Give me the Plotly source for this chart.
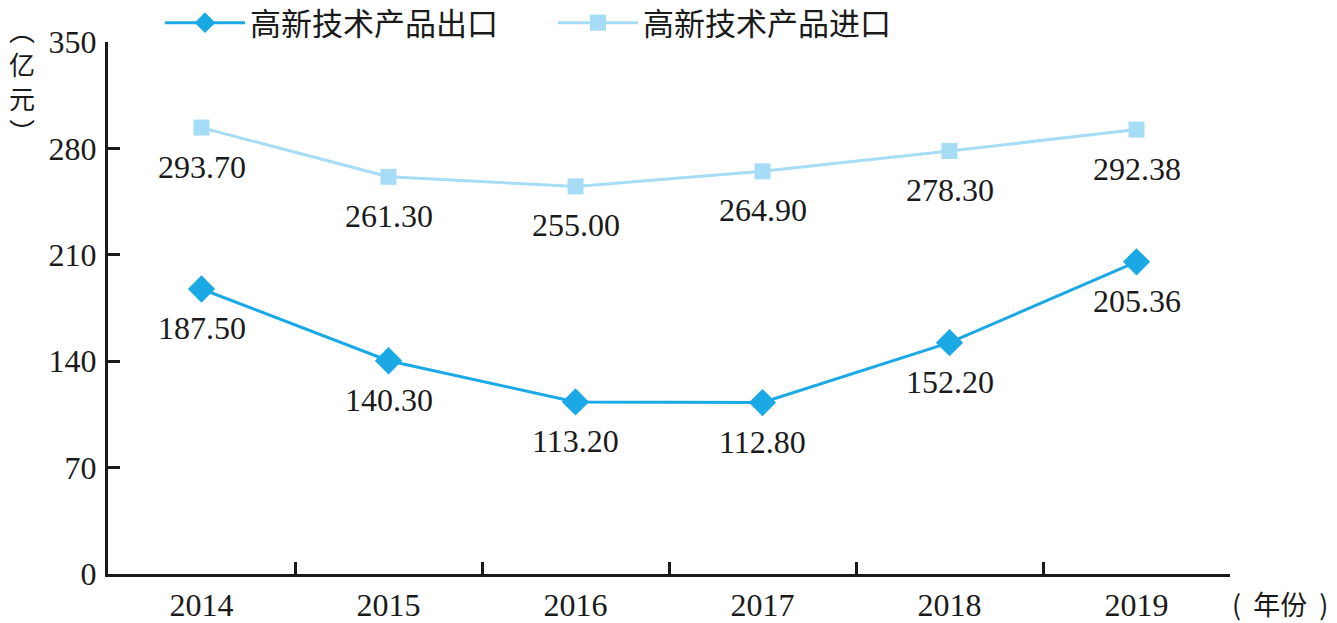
import plotly.graph_objects as go

years = ["2014", "2015", "2016", "2017", "2018", "2019"]
export_vals = [187.50, 140.30, 113.20, 112.80, 152.20, 205.36]
import_vals = [293.70, 261.30, 255.00, 264.90, 278.30, 292.38]
export_name = "高新技术产品出口"
import_name = "高新技术产品进口"
y_ticks = [0, 70, 140, 210, 280, 350]
y_title_glyphs = ["︵", "亿", "元", "︶"]
x_title = "(\u00a0\u00a0年份\u00a0\u00a0)"

DARK = "#1ba9e6"
LIGHT = "#a6dcf6"
INK = "#1a1a1a"
SERIF = "Liberation Serif, Times New Roman, serif"
CJK = "Noto Sans CJK SC, sans-serif"

L, R, T, B = 108, 107, 42, 49
W, H = 1337, 623
PW, PH = W - L - R, H - T - B


def px_x(px):
    return (px - L) / PW


def px_y(py):
    return (H - B - py) / PH


fig = go.Figure()
fig.add_trace(go.Scatter(
    x=years, y=export_vals, name=export_name, mode="lines+markers",
    line=dict(color=DARK, width=3),
    marker=dict(symbol="diamond", size=21, color=DARK),
))
fig.add_trace(go.Scatter(
    x=years, y=import_vals, name=import_name, mode="lines+markers",
    line=dict(color=LIGHT, width=3),
    marker=dict(symbol="square", size=16, color=LIGHT),
))

annotations = []
for ys in (export_vals, import_vals):
    for i, yv in enumerate(ys):
        annotations.append(dict(
            x=i, y=yv, xref="x", yref="y", text=f"{yv:.2f}",
            showarrow=False, yshift=-39,
            font=dict(family=SERIF, size=32, color=INK),
        ))

# vertical y-axis title, upright glyphs stacked in one text block
annotations.append(dict(
    xref="paper", yref="paper", x=px_x(22), y=px_y(80), xanchor="center", yanchor="middle",
    text="<br>".join(y_title_glyphs), showarrow=False,
    font=dict(family=CJK, size=26, color=INK),
))
annotations.append(dict(
    xref="paper", yref="paper", x=px_x(1280), y=px_y(603),
    xanchor="center", yanchor="middle", text=x_title, showarrow=False,
    font=dict(family=CJK, size=27, color=INK),
))

fig.update_layout(
    width=W, height=H,
    margin=dict(l=L, r=R, t=T, b=B, autoexpand=False),
    paper_bgcolor="white", plot_bgcolor="white",
    showlegend=True,
    legend=dict(
        orientation="h", x=160 / W, xref="container", y=1 - 23 / H, yref="container",
        xanchor="left", yanchor="middle",
        font=dict(family=CJK, size=31, color=INK),
        entrywidth=298, itemwidth=80,
        bgcolor="rgba(0,0,0,0)",
    ),
    annotations=annotations,
)
fig.update_xaxes(
    type="category", range=[-0.5, 5.5], automargin=False,
    showline=True, linecolor=INK, linewidth=3,
    ticks="inside", tickson="boundaries", ticklen=12, tickwidth=3, tickcolor=INK,
    showgrid=False, zeroline=False,
    tickfont=dict(family=SERIF, size=32, color=INK),
    ticklabelstandoff=1,
)
fig.update_yaxes(
    range=[0, 350], tickvals=y_ticks, ticktext=[str(v) for v in y_ticks], automargin=False,
    showline=True, linecolor=INK, linewidth=3,
    ticks="inside", ticklen=12, tickwidth=3, tickcolor=INK,
    showgrid=False, zeroline=False,
    tickfont=dict(family=SERIF, size=32, color=INK),
    ticklabelstandoff=2,
)

fig.write_html("out.html", config={"displayModeBar": False},
               post_script="document.body.style.margin='0px';")
